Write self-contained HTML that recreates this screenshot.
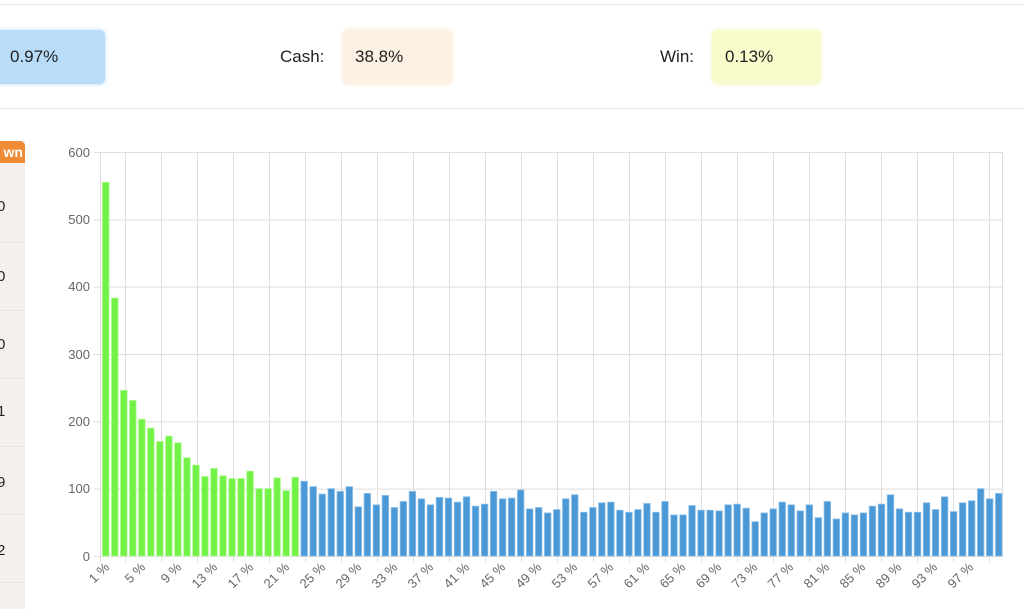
<!DOCTYPE html>
<html><head><meta charset="utf-8"><style>
html,body{margin:0;padding:0;background:#fff;width:1024px;height:609px;overflow:hidden;font-family:"Liberation Sans",sans-serif;}
.abs{position:absolute}
.box{position:absolute;top:30px;height:54px;border-radius:5px;font-size:17px;color:#222;line-height:54px;}
.lbl{position:absolute;top:30px;line-height:54px;font-size:17px;color:#222}
.num{position:absolute;left:-3px;font-size:15px;color:#222;line-height:18px}
</style></head><body>
<div class="abs" style="left:0;top:4px;width:1024px;height:1px;background:#e8e8e8"></div>
<div class="box" style="left:-10px;width:115px;background:#b9dcf8;box-shadow:0 0 4px #b9dcf8;padding-left:20px;box-sizing:border-box">0.97%</div>
<div class="lbl" style="left:280px">Cash:</div>
<div class="box" style="left:343px;width:109px;background:#fdf1e3;box-shadow:0 0 4px #f8e0c6;padding-left:12px;box-sizing:border-box">38.8%</div>
<div class="lbl" style="left:660px">Win:</div>
<div class="box" style="left:712px;width:109px;background:#f9fbcd;box-shadow:0 0 4px #eef2b8;padding-left:13px;box-sizing:border-box">0.13%</div>
<div class="abs" style="left:0;top:108px;width:1024px;height:1px;background:#ebebeb"></div>
<div class="abs" style="left:0;top:141px;width:25px;height:468px;background:#f4f0eb"></div>
<div class="abs" style="left:0;top:141px;width:25px;height:22px;background:#f08a35;border-radius:0 5px 0 0;color:#fff;font-weight:bold;font-size:14px;line-height:22px;text-align:right;padding-right:2px;box-sizing:border-box;overflow:hidden">wn</div>
<div class="num" style="top:198px">0</div>
<div class="num" style="top:268px">0</div>
<div class="num" style="top:336px">0</div>
<div class="num" style="top:403px">1</div>
<div class="num" style="top:474px">9</div>
<div class="num" style="top:542px">2</div>
<div class="abs" style="left:0;top:242px;width:25px;height:1px;background:#e8e2da"></div>
<div class="abs" style="left:0;top:310px;width:25px;height:1px;background:#e8e2da"></div>
<div class="abs" style="left:0;top:378px;width:25px;height:1px;background:#e8e2da"></div>
<div class="abs" style="left:0;top:446px;width:25px;height:1px;background:#e8e2da"></div>
<div class="abs" style="left:0;top:514px;width:25px;height:1px;background:#e8e2da"></div>
<div class="abs" style="left:0;top:582px;width:25px;height:1px;background:#e8e2da"></div>
<svg class="abs" style="left:0;top:0" width="1024" height="609" xmlns="http://www.w3.org/2000/svg">
<g id="grid" stroke="#dedede" stroke-width="1"></g>
<g id="bars"></g>
<g font-size="13" fill="#666" text-anchor="end" font-family="Liberation Sans, sans-serif">
<text x="90" y="157">600</text><text x="90" y="224">500</text><text x="90" y="291">400</text><text x="90" y="359">300</text><text x="90" y="426">200</text><text x="90" y="493">100</text><text x="90" y="561">0</text>
</g>
<g font-size="13" fill="#666" text-anchor="end" font-family="Liberation Sans, sans-serif">
<text transform="translate(110,568) rotate(-45)">1 %</text>
<text transform="translate(146,568) rotate(-45)">5 %</text>
<text transform="translate(182,568) rotate(-45)">9 %</text>
<text transform="translate(218,568) rotate(-45)">13 %</text>
<text transform="translate(254,568) rotate(-45)">17 %</text>
<text transform="translate(290,568) rotate(-45)">21 %</text>
<text transform="translate(326,568) rotate(-45)">25 %</text>
<text transform="translate(362,568) rotate(-45)">29 %</text>
<text transform="translate(398,568) rotate(-45)">33 %</text>
<text transform="translate(434,568) rotate(-45)">37 %</text>
<text transform="translate(470,568) rotate(-45)">41 %</text>
<text transform="translate(506,568) rotate(-45)">45 %</text>
<text transform="translate(542,568) rotate(-45)">49 %</text>
<text transform="translate(578,568) rotate(-45)">53 %</text>
<text transform="translate(614,568) rotate(-45)">57 %</text>
<text transform="translate(650,568) rotate(-45)">61 %</text>
<text transform="translate(686,568) rotate(-45)">65 %</text>
<text transform="translate(722,568) rotate(-45)">69 %</text>
<text transform="translate(758,568) rotate(-45)">73 %</text>
<text transform="translate(794,568) rotate(-45)">77 %</text>
<text transform="translate(830,568) rotate(-45)">81 %</text>
<text transform="translate(866,568) rotate(-45)">85 %</text>
<text transform="translate(902,568) rotate(-45)">89 %</text>
<text transform="translate(938,568) rotate(-45)">93 %</text>
<text transform="translate(974,568) rotate(-45)">97 %</text>
</g>
</svg>
<script>
var v=[555,383,246,231,203,190,170,178,168,146,135,118,130,119,115,115,126,100,100,116,97,117,
111,103,92,100,96,103,73,93,76,90,72,81,96,85,76,87,86,80,88,74,77,96,85,86,98,70,72,64,
69,85,91,65,72,79,80,68,65,69,78,65,81,61,61,75,68,68,67,76,77,71,51,64,70,80,76,67,76,57,
81,55,64,61,64,74,77,91,70,65,65,79,69,88,66,79,82,100,85,93];
var ns="http://www.w3.org/2000/svg";
var g=document.getElementById('grid'),b=document.getElementById('bars');
function ln(x1,y1,x2,y2){var l=document.createElementNS(ns,'line');l.setAttribute('x1',x1);l.setAttribute('y1',y1);l.setAttribute('x2',x2);l.setAttribute('y2',y2);g.appendChild(l);}
for(var i=0;i<=6;i++){var y=556.5-i*67.33;ln(94,y,1003,y);}
ln(100.5,152,100.5,562);
for(var k=0;k<=24;k++){var x=125.5+36*k;ln(x,152,x,562);}
ln(1002.5,152,1002.5,556);
for(var i=0;i<100;i++){var h=v[i]*0.6733;var r=document.createElementNS(ns,'rect');
r.setAttribute('x',102.5+9.02*i);r.setAttribute('y',556-h);r.setAttribute('width',6.5);r.setAttribute('height',h);
var gr=i<22;r.setAttribute('fill',gr?'#72f246':'#4a98d6');r.setAttribute('stroke',gr?'#a6fa86':'#8cc0ea');r.setAttribute('stroke-width','0.8');b.appendChild(r);}
</script>
</body></html>
